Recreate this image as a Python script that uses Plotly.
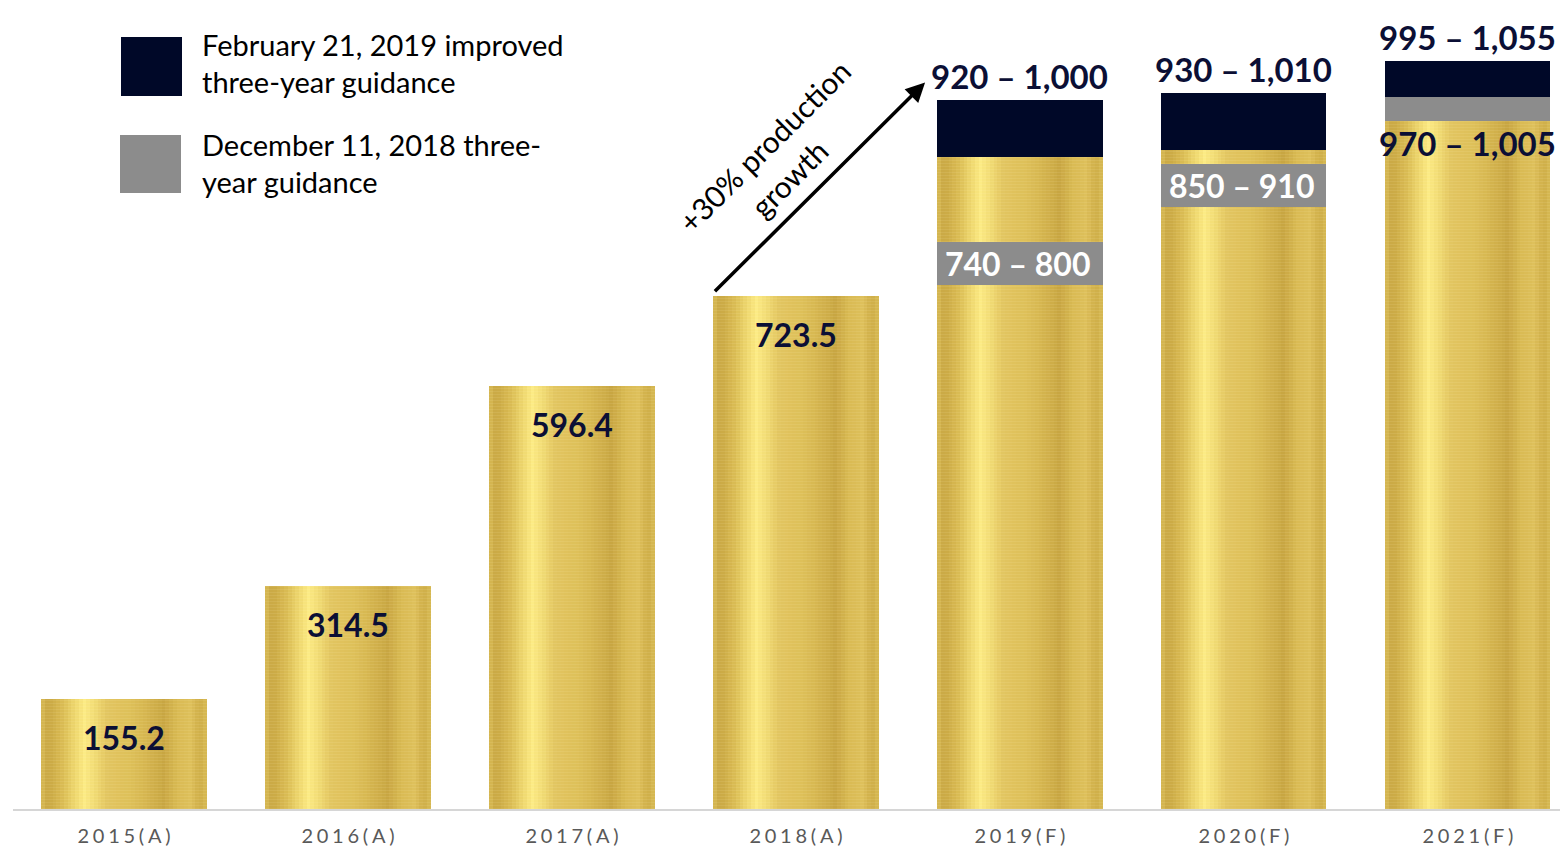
import plotly.graph_objects as go

# ---- data -------------------------------------------------------------
years = ["2015(A)", "2016(A)", "2017(A)", "2018(A)", "2019(F)", "2020(F)", "2021(F)"]
actual = [155.2, 314.5, 596.4, 723.5, None, None, None]
# February 21, 2019 improved three-year guidance (low, high)
new_low = [None, None, None, None, 920, 930, 995]
new_high = [None, None, None, None, 1000, 1010, 1055]
# December 11, 2018 three-year guidance (low, high)
old_low = [None, None, None, None, 740, 850, 970]
old_high = [None, None, None, None, 800, 910, 1005]

# ---- styling ----------------------------------------------------------
W, H = 1560, 848
ML, MB = 13, 39
PLOT_H = H - MB
Y_MAX = 1141.4
BW = 0.737                      # bar width in category units
X_RANGE = [-0.4955, 6.411]
NAVY = "#000828"
GRAY = "#8C8C8C"
TEXT_NAVY = "#0B0F35"
FONT = "Lato"
LABEL_SIZE = 32

# horizontal colour profile of the brushed-gold bars
GOLD_STOPS = [
    (0.00, "#D9BB55"), (0.04, "#C9A743"), (0.12, "#D8B951"), (0.20, "#EDD56C"),
    (0.26, "#FCEB84"), (0.31, "#F3DE77"), (0.40, "#E2C560"), (0.55, "#DDBF58"),
    (0.68, "#D0AF4A"), (0.74, "#C8A642"), (0.82, "#D9BA53"), (0.90, "#DEC05B"),
    (0.96, "#CFAE48"), (1.00, "#D8BA55"),
]
N_STRIPES = 44


def hex_rgb(h):
    h = h.lstrip("#")
    return tuple(int(h[i:i + 2], 16) for i in (0, 2, 4))


def gold_at(t):
    for (t0, c0), (t1, c1) in zip(GOLD_STOPS[:-1], GOLD_STOPS[1:]):
        if t0 <= t <= t1:
            f = (t - t0) / (t1 - t0) if t1 > t0 else 0
            a, b = hex_rgb(c0), hex_rgb(c1)
            return "rgb(%d,%d,%d)" % tuple(round(a[i] + (b[i] - a[i]) * f) for i in range(3))
    return GOLD_STOPS[-1][1]


def px(x):
    return (x - ML) / (W - ML)


def py(y):
    return 1 - y / PLOT_H


xpos = list(range(len(years)))
gold_top = [a if a is not None else lo for a, lo in zip(actual, new_low)]

fig = go.Figure()

# gold bars built from narrow vertical stripes
sw = BW / N_STRIPES
for k in range(N_STRIPES):
    left = -BW / 2 + k * sw
    width = min(sw * 1.6, BW / 2 - left)
    fig.add_trace(go.Bar(
        x=xpos, y=gold_top, offset=left, width=width,
        marker=dict(
            color=gold_at((k + 0.5) / N_STRIPES), line=dict(width=0),
            pattern=dict(shape="-", fgcolor="#FFF6C8", fgopacity=0.1,
                         size=3, solidity=0.3, fillmode="overlay"),
        ),
        hoverinfo="skip", showlegend=False,
    ))

fx = [x for x, v in zip(xpos, new_low) if v is not None]

# improved guidance ranges
fig.add_trace(go.Bar(
    x=fx, base=[v for v in new_low if v is not None],
    y=[h - l for h, l in zip(new_high, new_low) if l is not None],
    width=BW, marker=dict(color=NAVY, line=dict(width=0)),
    hoverinfo="skip", showlegend=False,
))
# previous guidance ranges
fig.add_trace(go.Bar(
    x=fx, base=[v for v in old_low if v is not None],
    y=[h - l for h, l in zip(old_high, old_low) if l is not None],
    width=BW, marker=dict(color=GRAY, line=dict(width=0)),
    hoverinfo="skip", showlegend=False,
))

annotations = []

# value labels inside the actual bars
for x, v in zip(xpos, actual):
    if v is None:
        continue
    annotations.append(dict(
        x=x, y=v, xref="x", yref="y", text=f"{v:.1f}", showarrow=False,
        yanchor="middle", yshift=-38,
        font=dict(family=FONT, size=LABEL_SIZE, color=TEXT_NAVY, weight="bold"),
    ))

# range labels
for x, lo, hi, olo, ohi in zip(xpos, new_low, new_high, old_low, old_high):
    if lo is None:
        continue
    annotations.append(dict(
        x=x, y=hi, xref="x", yref="y", text=f"{lo:,} \u2013 {hi:,}", showarrow=False,
        yanchor="bottom", yshift=2,
        font=dict(family=FONT, size=LABEL_SIZE + 1, color=TEXT_NAVY, weight="bold"),
    ))
    if ohi - olo >= 50:
        annotations.append(dict(
            x=x, y=(olo + ohi) / 2, xref="x", yref="y", xshift=-2,
            text=f"{olo:,} \u2013 {ohi:,}", showarrow=False, yanchor="middle",
            font=dict(family=FONT, size=LABEL_SIZE, color="white", weight="bold"),
        ))
    else:
        annotations.append(dict(
            x=x, y=olo, xref="x", yref="y", text=f"{olo:,} \u2013 {ohi:,}",
            showarrow=False, yanchor="top", yshift=0,
            font=dict(family=FONT, size=LABEL_SIZE + 1, color=TEXT_NAVY, weight="bold"),
        ))

# growth arrow from the last actual year to the first forecast year
annotations.append(dict(
    x=4 - BW / 2 - 0.055, y=new_high[4] + 25, xref="x", yref="y",
    ax=3 - BW / 2, ay=actual[3] + 5, axref="x", ayref="y",
    showarrow=True, arrowhead=2, arrowsize=1.1, arrowwidth=3.5, arrowcolor="black",
    text="",
))
for txt, cx, cy in [("+30% production", 764, 146), ("growth", 789, 178)]:
    annotations.append(dict(
        x=px(cx), y=py(cy), xref="paper", yref="paper", text=txt, showarrow=False,
        textangle=-45, xanchor="center", yanchor="middle",
        font=dict(family=FONT, size=30, color="black"),
    ))

# legend
legend_items = [
    (NAVY, (121, 37, 182, 96), ["February 21, 2019 improved", "three-year guidance"], 44),
    (GRAY, (120, 135, 181, 193), ["December 11, 2018 three-", "year guidance"], 144),
]
shapes = []
for color, (x0, y0, x1, y1), lines, ty in legend_items:
    shapes.append(dict(type="rect", xref="paper", yref="paper",
                       x0=px(x0), x1=px(x1), y0=py(y1), y1=py(y0),
                       fillcolor=color, line=dict(width=0)))
    for i, line in enumerate(lines):
        annotations.append(dict(
            x=px(200), y=py(ty + 38 * i), xref="paper", yref="paper", text=line,
            showarrow=False, xanchor="left", yanchor="middle",
            font=dict(family=FONT, size=29, color="black"),
        ))

fig.update_layout(
    width=W, height=H, margin=dict(l=ML, r=0, t=0, b=MB),
    barmode="overlay", bargap=0,
    plot_bgcolor="white", paper_bgcolor="white",
    annotations=annotations, shapes=shapes,
    xaxis=dict(
        range=X_RANGE, tickmode="array", tickvals=xpos,
        ticktext=["\u2009\u200a".join(y) for y in years],
        showgrid=False, zeroline=False, showline=True, linecolor="#D6D6D6", linewidth=2,
        ticks="", ticklabelstandoff=8, automargin=False,
        tickfont=dict(family=FONT, size=20, color="#595959"),
        fixedrange=True,
    ),
    yaxis=dict(range=[0, Y_MAX], visible=False, fixedrange=True, automargin=False),
)

fig.write_html("out.html")
